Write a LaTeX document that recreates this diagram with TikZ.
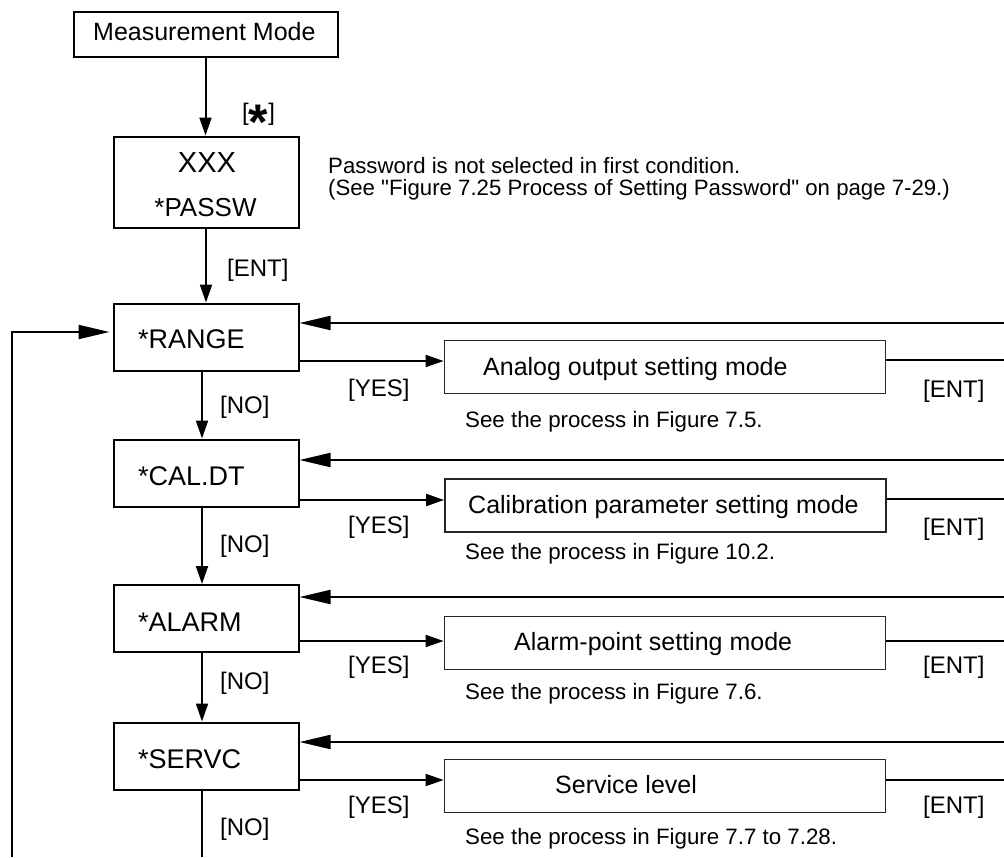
\documentclass[tikz,border=0pt]{standalone}
\usepackage{fontspec}
\setmainfont{Liberation Sans}
\newfontfamily\plainq{Liberation Sans}[Ligatures=TeXOff]
\usetikzlibrary{arrows.meta}
\begin{document}
\begin{tikzpicture}[x=1pt,y=-1pt,
  box/.style={draw, line width=2pt, inner sep=0pt},
  lbox/.style={box, minimum width=185pt, minimum height=67pt},
  rbox/.style={draw=black!85, line width=1.8pt, inner sep=0pt, minimum width=441pt, minimum height=53pt},
  txt/.style={inner sep=0pt, anchor=base west},
  ctxt/.style={inner sep=0pt, anchor=base},
  arr/.style={line width=2pt, -{Triangle[length=18pt,width=12pt]}},
  larr/.style={line width=2pt, -{Triangle[length=31pt,width=14pt]}},
  ln/.style={line width=2pt},
  fmm/.style={font=\fontsize{25}{30}\selectfont},
  fbox/.style={font=\fontsize{27}{32}\selectfont},
  frb/.style={font=\fontsize{25}{30}\selectfont},
  flab/.style={font=\fontsize{24}{29}\selectfont},
  fsee/.style={font=\fontsize{22.3}{27}\selectfont},
  fpn/.style={font=\fontsize{22.2}{27}\selectfont},
]
\useasboundingbox (0,0) rectangle (1004,857);

% top boxes
\node[box, minimum width=264pt, minimum height=45pt] (mm) at (205.5,34) {};
\node[txt, fmm] (mmt) at (93,40) {Measurement Mode};
\node[box, minimum width=185pt, minimum height=91pt] (pw) at (206,182) {};
\node[ctxt, font=\fontsize{29}{34}\selectfont] (xxx) at (207,172.7) {XXX};
\node[ctxt, font=\fontsize{26}{31}\selectfont] (pwt) at (205.5,216.7) {*PASSW};

% password note
\node[txt, fpn] (pn1) at (328,173) {Password is not selected in first condition.};
\node[txt, fpn] (pn2) at (328,195) {\plainq (See "Figure 7.25 Process of Setting Password" on page 7-29.)};

% left column boxes
\node[lbox] (range) at (206,337) {};
\node[lbox] (cal) at (206,473) {};
\node[lbox] (alarm) at (206,618.5) {};
\node[lbox] (servc) at (206,756) {};
\node[txt, fbox] (rt) at (138,348.3) {*RANGE};
\node[txt, fbox] (ct) at (138,485) {*CAL.DT};
\node[txt, fbox] (at) at (138,631.5) {*ALARM};
\node[txt, fbox] (st) at (138,768) {*SERVC};

% right boxes
\node[rbox] (ana) at (665,367) {};
\node[rbox] (calm) at (665.5,505.5) {};
\node[rbox] (alm) at (665,643) {};
\node[rbox] (svc) at (665,786) {};
\node[txt, frb] (anat) at (483,375) {Analog output setting mode};
\node[txt, frb] (calmt) at (468,513) {Calibration parameter setting mode};
\node[txt, frb] (almt) at (514,650) {Alarm-point setting mode};
\node[txt, frb] (svct) at (555,793) {Service level};

% see texts
\node[txt, fsee] (s1) at (465,427) {See the process in Figure 7.5.};
\node[txt, fsee] (s2) at (465,559) {See the process in Figure 10.2.};
\node[txt, fsee] (s3) at (465,699) {See the process in Figure 7.6.};
\node[txt, fsee] (s4) at (465,844) {See the process in Figure 7.7 to 7.28.};

% labels
\node[txt, flab] (lstar) at (242,120) {[\raisebox{-19pt}{\fontsize{50}{50}\selectfont\bfseries *}]};
\node[txt, flab] (lent) at (227,276) {[ENT]};
\node[txt, flab] (no1) at (220,413) {[NO]};
\node[txt, flab] (no2) at (220,552) {[NO]};
\node[txt, flab] (no3) at (220,689) {[NO]};
\node[txt, flab] (no4) at (220,835) {[NO]};
\node[txt, flab] (y1) at (348,396) {[YES]};
\node[txt, flab] (y2) at (348,533) {[YES]};
\node[txt, flab] (y3) at (348,673) {[YES]};
\node[txt, flab] (y4) at (348,813) {[YES]};
\node[txt, flab] (e1) at (923,397) {[ENT]};
\node[txt, flab] (e2) at (923,535) {[ENT]};
\node[txt, flab] (e3) at (923,673) {[ENT]};
\node[txt, flab] (e4) at (923,813) {[ENT]};

% free ends
\coordinate (f1) at (1004,323);
\coordinate (f2) at (1004,460);
\coordinate (f3) at (1004,597);
\coordinate (f4) at (1004,742);
\coordinate (o1) at (1004,360);
\coordinate (o2) at (1004,499);
\coordinate (o3) at (1004,641);
\coordinate (o4) at (1004,780);
\coordinate (lb) at (12,857);
\coordinate (lc) at (12,332);
\coordinate (bot) at (202,857);

% vertical flow
\draw[arr] (mm.south) -- (mm.south |- pw.north);
\draw[arr] (pw.south) -- (range.north);
\draw[arr] ([xshift=-4pt]range.south) -- ([xshift=-4pt]cal.north);
\draw[arr] ([xshift=-4pt]cal.south) -- ([xshift=-4pt]alarm.north);
\draw[arr] ([xshift=-4pt]alarm.south) -- ([xshift=-4pt]servc.north);
\draw[ln] ([xshift=-4pt]servc.south) -- (bot);

% YES arrows
\draw[arr] (range.east |- 0,361) -- (ana.west |- 0,361);
\draw[arr] (cal.east |- 0,500) -- (calm.west |- 0,500);
\draw[arr] (alarm.east |- 0,641) -- (alm.west |- 0,641);
\draw[arr] (servc.east |- 0,780) -- (svc.west |- 0,780);

% outputs
\draw[ln] (ana.east |- o1) -- (o1);
\draw[ln] (calm.east |- o2) -- (o2);
\draw[ln] (alm.east |- o3) -- (o3);
\draw[ln] (svc.east |- o4) -- (o4);

% feedback
\draw[larr] (f1) -- (range.east |- f1);
\draw[larr] (f2) -- (cal.east |- f2);
\draw[larr] (f3) -- (alarm.east |- f3);
\draw[larr] (f4) -- (servc.east |- f4);

% left loop
\draw[larr, shorten >=3pt] (lb) -- (lc) -- (range.west |- lc);
\end{tikzpicture}
\end{document}
